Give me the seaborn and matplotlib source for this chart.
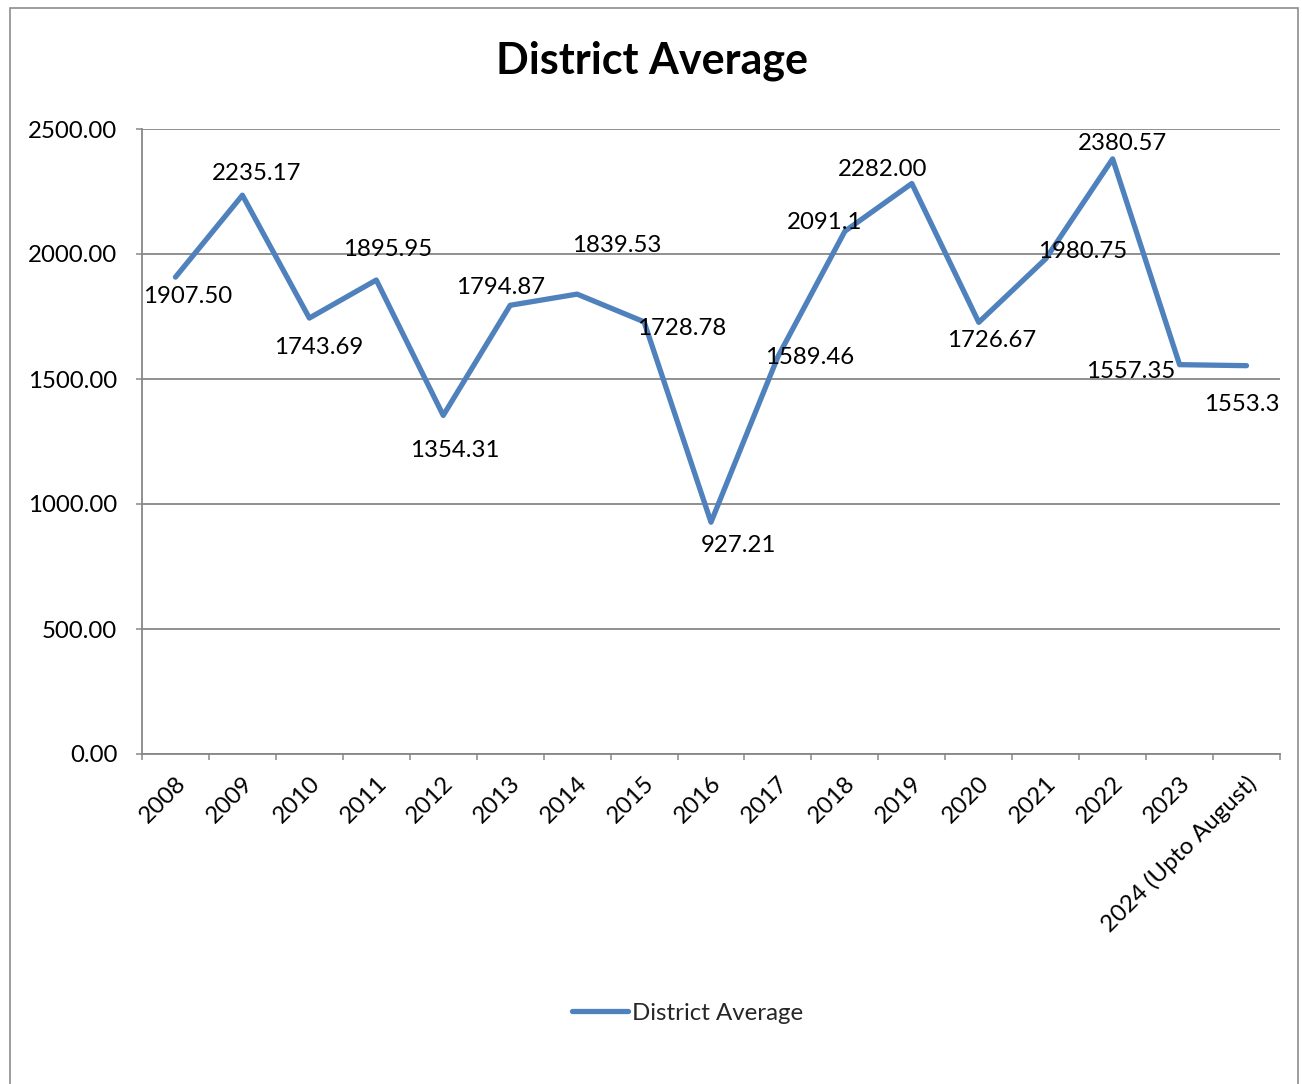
import matplotlib
matplotlib.use("Agg")
import matplotlib.pyplot as plt
import matplotlib.transforms as mtransforms
from matplotlib.patches import Rectangle
from matplotlib.ticker import FixedLocator
import seaborn as sns
import pandas as pd

# ---- data ----
years = ["2008", "2009", "2010", "2011", "2012", "2013", "2014", "2015", "2016",
         "2017", "2018", "2019", "2020", "2021", "2022", "2023", "2024 (Upto August)"]
district_average = [1907.50, 2235.17, 1743.69, 1895.95, 1354.31, 1794.87, 1839.53,
                    1728.78, 927.21, 1589.46, 2091.1, 2282.00, 1726.67, 1980.75,
                    2380.57, 1557.35, 1553.3]
value_labels = ["1907.50", "2235.17", "1743.69", "1895.95", "1354.31", "1794.87",
                "1839.53", "1728.78", "927.21", "1589.46", "2091.1", "2282.00",
                "1726.67", "1980.75", "2380.57", "1557.35", "1553.3"]
y_ticks = [0, 500, 1000, 1500, 2000, 2500]
series_name = "District Average"
title = "District Average"

# label placement offsets (pixels, x right / y up) -- layout only
label_offsets = [(12, -19), (14, 22), (9, -29), (11, 31), (12, -35), (-10, 18),
                 (40, 49), (38, -7), (27, -23), (32, -1), (-20, 9), (-29, 14),
                 (13, -18), (37, 7), (10, 15), (-49, -7), (-5, -39)]

sns.set_theme(style="white")
plt.rcParams["font.family"] = ["Lato", "DejaVu Sans"]

df = pd.DataFrame({"Year": years, "Value": district_average})

W, H = 1302, 1084
FS = 17.3
fig = plt.figure(figsize=(W / 100, H / 100), dpi=100)
fig.patch.set_facecolor("white")
ax = fig.add_axes([142 / W, 1 - 754 / H, (1280 - 142) / W, (754 - 129) / H])

blue = "#4F81BD"
grid_c = "#878787"
sns.lineplot(data=df, x="Year", y="Value", ax=ax, sort=False, color=blue,
             linewidth=3.8, label=series_name, legend=False)

ax.set_xlim(-0.5, len(years) - 0.5)
ax.set_ylim(0, 2500)
ax.set_yticks(y_ticks)
ax.set_yticklabels([f"{v:.2f}" for v in y_ticks], fontsize=FS, color="black")
ax.yaxis.grid(True, color=grid_c, linewidth=1.3)
ax.xaxis.grid(False)
ax.set_axisbelow(True)
ax.set_xlabel("")
ax.set_ylabel("")

for s in ["top", "right"]:
    ax.spines[s].set_visible(False)
for s in ["left", "bottom"]:
    ax.spines[s].set_color(grid_c)
    ax.spines[s].set_linewidth(1.3)

ax.tick_params(axis="y", which="major", left=True, length=4.5, width=1.1,
               color=grid_c, pad=13.3)
ax.set_xticks(range(len(years)))
ax.set_xticklabels(years, rotation=45, ha="right", va="center",
                   rotation_mode="anchor", fontsize=FS, color="black")
ax.tick_params(axis="x", which="major", bottom=False, length=0, pad=19)
ax.xaxis.set_minor_locator(FixedLocator([i - 0.5 for i in range(len(years) + 1)]))
ax.tick_params(axis="x", which="minor", bottom=True, length=4.5, width=1.1,
               color=grid_c)
offset = mtransforms.ScaledTranslation(7 / 100, 0, fig.dpi_scale_trans)
for lbl in ax.get_xticklabels():
    lbl.set_transform(lbl.get_transform() + offset)

for i, (v, t) in enumerate(zip(district_average, value_labels)):
    dx, dy = label_offsets[i]
    ax.annotate(t, (i, v), xytext=(dx, dy), textcoords="offset pixels",
                ha="center", va="center", fontsize=FS, color="black")

fig.text(652 / W, 1 - 61 / H, title, ha="center", va="center",
         fontsize=31, fontweight="bold", color="black")

handles, labels = ax.get_legend_handles_labels()
fig.legend(handles, labels, loc="center", bbox_to_anchor=(688 / W, 1 - 1013 / H),
           frameon=False, fontsize=FS, handlelength=2.3, handletextpad=0.2)

fig.patches.append(Rectangle((10 / W, -0.02), (1298 - 10) / W, 1 - 8 / H + 0.02,
                             transform=fig.transFigure, fill=False,
                             edgecolor="#8c8c8c", linewidth=1.2))

fig.savefig("out.png", dpi=100, facecolor="white")
